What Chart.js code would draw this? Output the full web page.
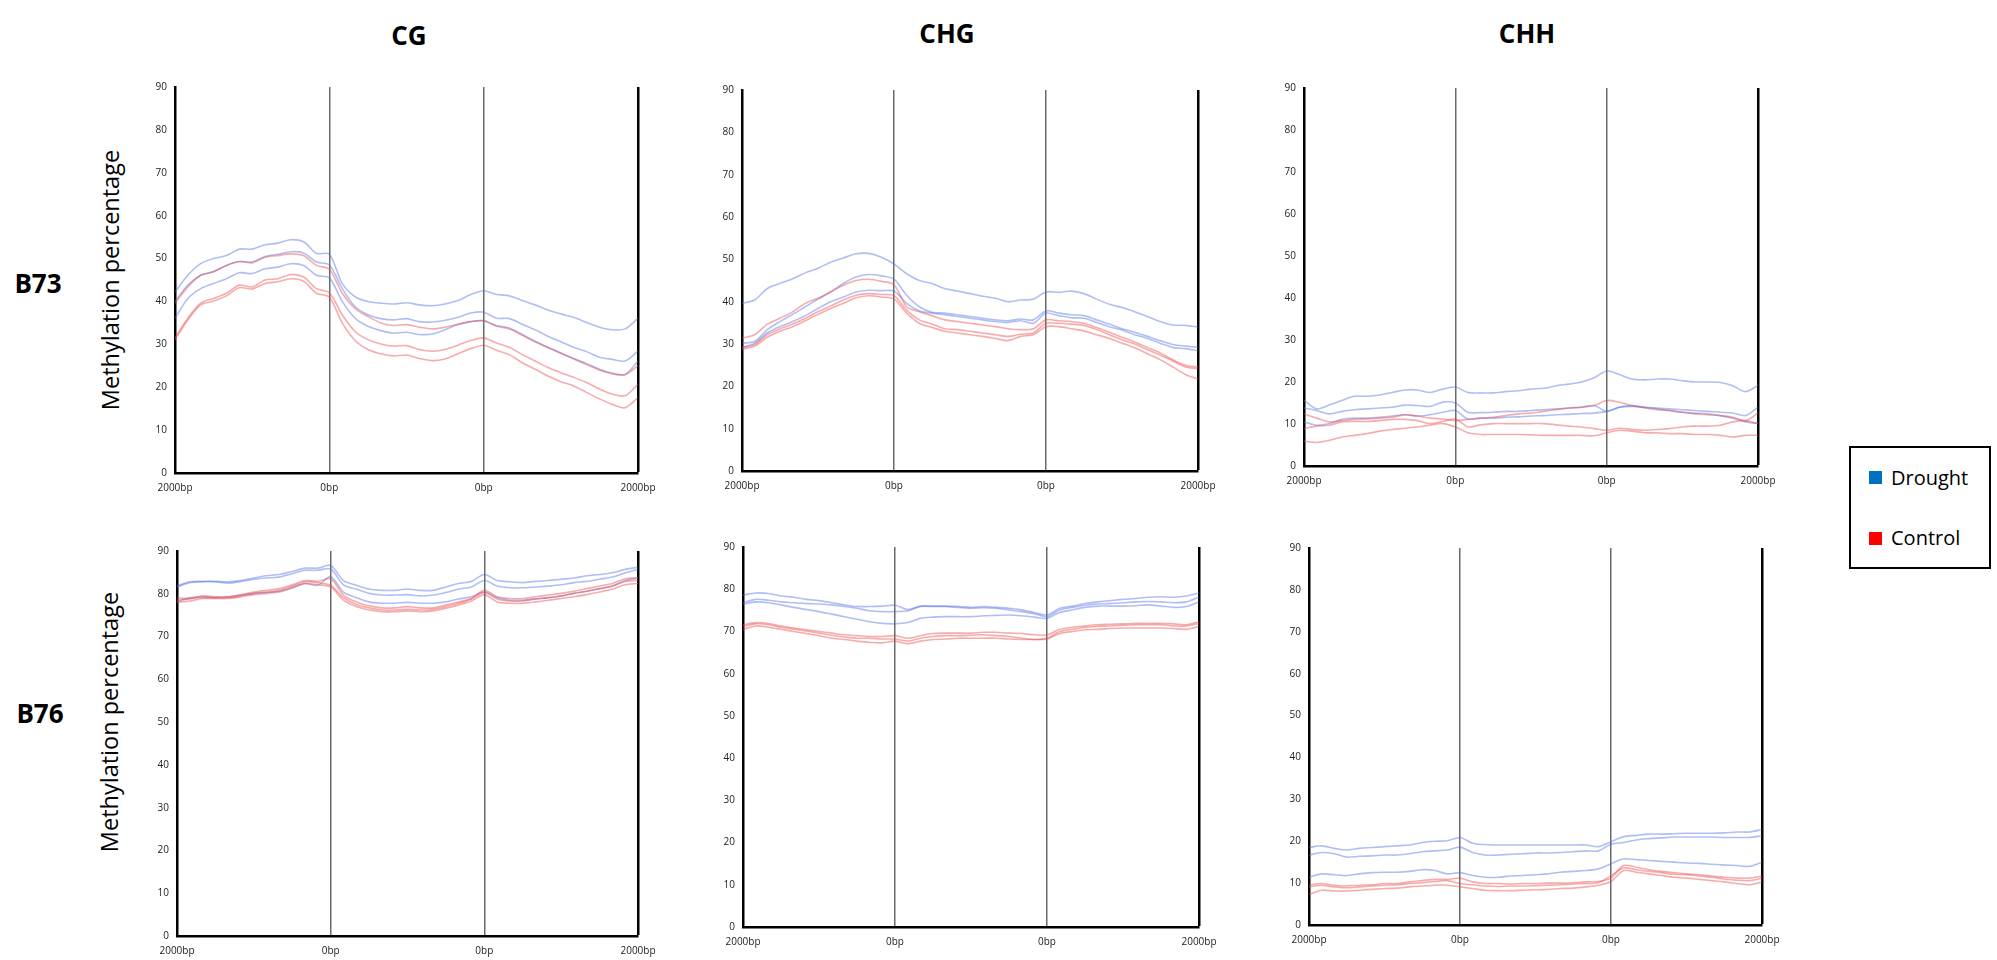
<!DOCTYPE html>
<html>
<head>
<meta charset="utf-8">
<script src="https://cdn.jsdelivr.net/npm/chart.js@4.4.1/dist/chart.umd.min.js"></script>
<style>
  body { margin: 0; background: #fff; }
  #page { position: relative; width: 1997px; height: 960px; overflow: hidden; font-family: "Open Sans", sans-serif; }
  canvas { position: absolute; }
  .lbl { position: absolute; transform: translate(-50%, -50%); line-height: 1; white-space: nowrap; color: #000; }
  .col { font-weight: bold; font-size: 26px; }
  .row { font-weight: bold; font-size: 26px; }
  .ytitle { font-size: 23.5px; transform: translate(-50%, -50%) rotate(-90deg); }
  #legend { position: absolute; left: 1849px; top: 446px; width: 142px; height: 123px; box-sizing: border-box; border: 2px solid #000; }
  #legend .sw { position: absolute; left: 18px; width: 13px; height: 13px; }
  #legend .tx { position: absolute; left: 40px; font-size: 20px; line-height: 1; transform: translateY(-50%); }
</style>
</head>
<body>
<div id="page">
  <div class="lbl col" style="left:409px; top:35px;">CG</div>
  <div class="lbl col" style="left:947px; top:33px;">CHG</div>
  <div class="lbl col" style="left:1527px; top:33px;">CHH</div>
  <div class="lbl row" style="left:38px; top:283px;">B73</div>
  <div class="lbl row" style="left:40px; top:713px;">B76</div>
  <div class="lbl ytitle" style="left:111px; top:280px;">Methylation percentage</div>
  <div class="lbl ytitle" style="left:110px; top:722px;">Methylation percentage</div>

  <canvas id="cgB73"></canvas>
  <canvas id="chgB73"></canvas>
  <canvas id="chhB73"></canvas>
  <canvas id="cgB76"></canvas>
  <canvas id="chgB76"></canvas>
  <canvas id="chhB76"></canvas>

  <div id="legend">
    <div class="sw" style="top:23px; background:#0070C0;"></div>
    <div class="tx" style="top:30px;">Drought</div>
    <div class="sw" style="top:84px; background:#FF0000;"></div>
    <div class="tx" style="top:90px;">Control</div>
  </div>
</div>

<script>
// bin positions: 12 bins upstream, 12 bins gene body, 12 bins downstream
const bins = [0, 1, 2, 3, 4, 5, 6, 7, 8, 9, 10, 11, 12, 13, 14, 15, 16, 17, 18, 19, 20, 21, 22, 23, 24, 25, 26, 27, 28, 29, 30, 31, 32, 33, 34, 35, 36];
const xTicks = [0, 12, 24, 36];
const xTickLabels = ["2000bp", "0bp", "0bp", "2000bp"];
const yTicks = [0, 10, 20, 30, 40, 50, 60, 70, 80, 90];

// B73 - CG
const b73CgD1 = [42.2, 46.1, 48.8, 50.0, 50.7, 52.2, 52.2, 53.2, 53.6, 54.4, 53.9, 51.2, 51.0, 44.2, 41.1, 40.0, 39.6, 39.4, 39.7, 39.2, 39.0, 39.4, 40.2, 41.6, 42.5, 41.6, 41.3, 40.2, 39.2, 38.0, 37.1, 36.3, 35.1, 34.0, 33.4, 33.6, 36.1];
const b73CgD2 = [40.0, 43.8, 46.1, 47.0, 48.4, 49.3, 49.2, 50.5, 51.0, 51.6, 51.3, 49.2, 48.5, 43.0, 38.8, 36.9, 36.0, 35.7, 36.0, 35.3, 35.2, 35.6, 36.3, 37.3, 37.5, 36.1, 36.0, 34.7, 33.4, 31.9, 30.6, 29.3, 28.3, 27.0, 26.5, 26.1, 28.4];
const b73CgD3 = [36.1, 40.7, 43.0, 44.2, 45.3, 46.7, 46.5, 47.6, 48.0, 48.8, 48.4, 46.1, 45.5, 40.0, 36.1, 34.2, 33.2, 32.6, 32.8, 32.3, 32.4, 33.4, 34.6, 35.3, 35.5, 34.4, 33.8, 32.3, 30.7, 29.3, 28.0, 26.7, 25.5, 24.2, 23.3, 23.0, 26.1];
const b73CgC1 = [39.6, 43.4, 46.1, 46.9, 48.4, 49.3, 49.0, 50.3, 50.7, 51.1, 50.7, 48.4, 47.5, 41.9, 38.3, 36.5, 35.0, 34.4, 34.6, 34.0, 33.6, 34.0, 34.7, 35.3, 35.5, 34.2, 33.6, 32.1, 30.6, 29.2, 27.9, 26.6, 25.3, 24.0, 23.1, 22.9, 25.0];
const b73CgC2 = [31.5, 36.1, 39.6, 40.7, 41.9, 43.8, 43.4, 45.0, 45.3, 46.3, 45.7, 43.0, 42.0, 36.9, 33.0, 31.1, 30.1, 29.6, 29.7, 28.8, 28.4, 28.8, 29.8, 30.9, 31.5, 30.3, 29.3, 27.6, 26.1, 24.6, 23.4, 22.3, 21.1, 19.6, 18.4, 18.0, 20.7];
const b73CgC3 = [31.1, 35.7, 39.2, 40.1, 41.3, 43.2, 42.9, 44.2, 44.6, 45.3, 44.7, 41.9, 41.0, 35.0, 30.9, 28.8, 27.8, 27.3, 27.5, 26.7, 26.2, 26.6, 27.8, 29.0, 29.8, 28.6, 27.6, 25.7, 24.2, 22.6, 21.3, 20.3, 18.8, 17.3, 16.0, 15.2, 17.6];

// B73 - CHG
const b73ChgD1 = [39.6, 40.4, 43.1, 44.3, 45.4, 46.8, 47.9, 49.3, 50.3, 51.3, 51.4, 50.5, 48.9, 46.6, 45.0, 44.3, 43.1, 42.5, 41.9, 41.3, 40.8, 40.0, 40.4, 40.6, 42.3, 42.2, 42.5, 41.9, 40.6, 39.4, 38.6, 37.6, 36.5, 35.3, 34.5, 34.4, 34.0];
const b73ChgD2 = [30.2, 30.6, 33.4, 35.3, 37.0, 38.8, 40.6, 42.3, 44.3, 45.8, 46.4, 46.1, 45.3, 41.5, 38.8, 37.5, 37.3, 36.9, 36.5, 36.1, 35.7, 35.5, 35.9, 35.7, 37.8, 37.3, 36.9, 36.7, 35.7, 34.7, 33.6, 32.8, 31.8, 30.8, 29.9, 29.5, 29.2];
const b73ChgD3 = [29.2, 30.2, 32.6, 34.1, 35.3, 36.7, 38.4, 40.0, 41.1, 42.3, 42.7, 42.6, 42.5, 39.6, 37.8, 37.3, 36.9, 36.5, 36.1, 35.7, 35.3, 35.1, 35.5, 34.9, 37.3, 36.7, 36.2, 36.1, 35.1, 34.1, 33.3, 32.2, 31.3, 30.2, 29.2, 28.9, 28.4];
const b73ChgC1 = [31.4, 32.2, 34.7, 36.1, 37.6, 39.6, 40.8, 42.3, 43.9, 45.0, 45.3, 44.8, 44.0, 38.8, 37.6, 36.7, 35.7, 35.3, 34.9, 34.5, 34.1, 33.6, 33.4, 33.6, 35.7, 35.5, 35.3, 34.9, 33.9, 32.8, 31.6, 30.5, 29.2, 27.9, 26.3, 25.0, 24.6];
const b73ChgC2 = [29.1, 29.9, 32.2, 33.6, 34.7, 36.1, 37.6, 39.0, 40.4, 41.5, 41.9, 41.7, 41.4, 38.0, 35.7, 34.7, 33.6, 33.4, 33.0, 32.6, 32.2, 31.8, 32.3, 32.6, 34.9, 34.9, 34.7, 34.4, 33.4, 32.2, 31.0, 30.0, 28.7, 27.4, 26.0, 24.6, 24.2];
const b73ChgC3 = [28.7, 29.5, 31.6, 33.0, 34.1, 35.5, 37.0, 38.4, 39.6, 40.9, 41.4, 41.1, 40.6, 37.3, 34.9, 33.9, 33.0, 32.6, 32.2, 31.8, 31.3, 30.8, 31.8, 32.2, 34.1, 34.1, 33.6, 33.1, 32.2, 31.3, 30.2, 29.1, 27.7, 26.3, 24.6, 22.8, 21.7];

// B73 - CHH
const b73ChhD1 = [15.6, 13.6, 14.5, 15.6, 16.6, 16.6, 16.9, 17.5, 18.1, 18.1, 17.5, 18.3, 18.8, 17.5, 17.4, 17.4, 17.7, 17.9, 18.3, 18.5, 19.1, 19.5, 20.0, 21.0, 22.6, 21.8, 20.7, 20.5, 20.7, 20.7, 20.3, 20.0, 20.0, 19.9, 19.1, 17.7, 19.2];
const b73ChhD2 = [13.8, 13.2, 12.4, 13.0, 13.4, 13.6, 13.8, 14.0, 14.5, 14.4, 14.2, 15.2, 15.0, 12.8, 12.7, 12.8, 13.0, 13.0, 13.2, 13.4, 13.6, 13.8, 14.0, 14.4, 13.0, 14.0, 14.4, 14.0, 13.8, 13.6, 13.4, 13.2, 13.0, 12.8, 12.6, 12.0, 14.0];
const b73ChhD3 = [10.5, 9.7, 10.1, 11.1, 11.4, 11.4, 11.6, 11.9, 12.2, 11.9, 12.2, 12.8, 13.2, 11.2, 11.4, 11.4, 11.6, 11.7, 11.9, 12.0, 12.2, 12.3, 12.5, 12.6, 13.0, 14.0, 14.2, 14.0, 13.6, 13.2, 12.8, 12.6, 12.4, 12.0, 11.4, 10.5, 10.1];
const b73ChhC1 = [12.4, 11.4, 10.5, 10.8, 11.1, 11.2, 11.4, 11.6, 12.2, 11.9, 11.4, 11.2, 10.8, 11.1, 11.4, 11.6, 12.0, 12.4, 12.6, 13.0, 13.4, 13.8, 14.0, 14.4, 15.6, 15.2, 14.4, 13.8, 13.4, 13.2, 12.8, 12.4, 12.2, 12.0, 11.6, 10.8, 12.6];
const b73ChhC2 = [8.9, 9.5, 9.7, 10.5, 10.6, 10.6, 10.8, 11.1, 11.1, 10.8, 10.1, 10.6, 11.2, 9.3, 9.8, 10.1, 10.1, 10.1, 10.1, 10.1, 9.8, 9.5, 9.3, 8.9, 8.5, 9.0, 8.7, 8.5, 8.7, 8.9, 9.3, 9.5, 9.5, 9.7, 10.5, 10.8, 10.1];
const b73ChhC3 = [5.9, 5.6, 6.1, 6.9, 7.3, 7.7, 8.3, 8.7, 9.0, 9.3, 9.7, 10.1, 9.3, 7.9, 7.5, 7.5, 7.5, 7.5, 7.4, 7.3, 7.3, 7.3, 7.3, 7.2, 7.9, 8.5, 8.3, 7.9, 7.9, 7.7, 7.7, 7.5, 7.5, 7.3, 6.9, 7.3, 7.3];

// B76 - CG
const b76CgD1 = [81.8, 82.8, 82.9, 82.9, 82.8, 83.1, 83.7, 84.2, 84.5, 85.2, 86.0, 86.0, 86.6, 83.1, 82.0, 81.1, 80.8, 80.8, 81.1, 80.8, 80.8, 81.6, 82.4, 82.9, 84.5, 83.1, 82.8, 82.6, 82.9, 83.1, 83.4, 83.7, 84.2, 84.5, 84.9, 85.7, 86.2];
const b76CgD2 = [81.6, 82.6, 82.8, 82.8, 82.5, 82.9, 83.4, 83.7, 83.9, 84.7, 85.5, 85.5, 85.8, 82.1, 81.1, 80.1, 79.7, 79.7, 79.8, 79.5, 79.7, 80.3, 81.1, 81.6, 83.1, 81.8, 81.4, 81.4, 81.6, 81.8, 82.1, 82.6, 82.9, 83.4, 83.9, 84.9, 85.7];
const b76CgD3 = [78.1, 79.1, 79.1, 79.1, 79.3, 79.7, 80.1, 80.3, 80.6, 81.4, 82.4, 82.0, 84.0, 80.4, 79.1, 78.1, 77.8, 77.8, 78.0, 77.8, 77.8, 78.1, 78.8, 79.3, 80.4, 79.1, 78.5, 78.5, 78.8, 79.1, 79.5, 80.1, 80.6, 81.2, 81.8, 83.1, 83.7];
const b76CgC1 = [79.1, 78.9, 79.5, 79.3, 79.3, 79.8, 80.4, 80.8, 81.2, 82.1, 83.1, 82.9, 83.5, 79.7, 78.1, 77.2, 76.7, 76.7, 77.0, 76.7, 76.7, 77.4, 78.1, 78.9, 80.8, 79.3, 78.9, 78.9, 79.3, 79.7, 80.1, 80.6, 81.2, 81.8, 82.4, 83.5, 83.7];
const b76CgC2 = [78.5, 78.8, 79.3, 79.1, 79.1, 79.5, 80.1, 80.4, 80.8, 81.8, 82.8, 82.6, 82.0, 79.1, 77.5, 76.7, 76.2, 76.2, 76.4, 76.2, 76.4, 77.0, 77.8, 78.8, 80.3, 78.8, 78.3, 78.3, 78.8, 79.1, 79.5, 80.1, 80.6, 81.2, 81.8, 82.9, 83.1];
const b76CgC3 = [78.0, 78.3, 78.9, 78.9, 78.9, 79.3, 79.8, 80.1, 80.4, 81.4, 82.4, 82.1, 81.6, 78.5, 77.0, 76.2, 75.8, 75.8, 76.0, 75.8, 76.0, 76.6, 77.4, 78.3, 79.8, 78.1, 77.8, 77.8, 78.1, 78.5, 78.9, 79.3, 79.8, 80.4, 81.1, 82.1, 82.4];

// B76 - CHG
const b76ChgD1 = [78.6, 79.1, 79.0, 78.4, 78.1, 77.6, 77.3, 76.8, 76.3, 75.9, 75.9, 76.0, 76.2, 75.2, 76.0, 76.0, 76.0, 75.9, 75.7, 75.9, 75.7, 75.5, 75.1, 74.5, 73.9, 75.5, 76.0, 76.6, 77.0, 77.3, 77.6, 77.8, 78.1, 78.2, 78.1, 78.4, 79.1];
const b76ChgD2 = [76.8, 77.6, 77.4, 77.0, 76.8, 76.6, 76.5, 76.3, 75.9, 75.5, 74.9, 74.7, 74.7, 74.9, 75.9, 75.9, 75.9, 75.7, 75.5, 75.6, 75.5, 75.1, 74.7, 74.2, 73.5, 75.1, 75.7, 76.2, 76.5, 76.6, 76.8, 77.0, 77.1, 77.0, 76.8, 77.0, 78.1];
const b76ChgD3 = [76.5, 77.0, 76.8, 76.3, 75.7, 75.2, 74.7, 74.1, 73.5, 72.9, 72.3, 71.9, 71.8, 72.1, 73.1, 73.4, 73.5, 73.5, 73.5, 73.7, 73.8, 73.9, 73.7, 73.4, 73.1, 74.5, 75.1, 75.7, 76.0, 76.0, 76.0, 76.1, 76.3, 76.0, 75.7, 75.9, 77.0];
const b76ChgC1 = [71.6, 72.1, 71.9, 71.3, 70.8, 70.4, 70.0, 69.6, 69.2, 69.0, 68.8, 68.8, 69.0, 68.4, 69.0, 69.5, 69.6, 69.6, 69.6, 69.8, 69.8, 69.6, 69.5, 69.2, 69.2, 70.5, 71.0, 71.3, 71.6, 71.7, 71.8, 71.9, 71.9, 71.9, 71.8, 71.6, 72.3];
const b76ChgC2 = [71.2, 71.8, 71.6, 71.0, 70.5, 70.1, 69.6, 69.1, 68.7, 68.4, 68.4, 68.2, 68.2, 67.7, 68.4, 68.8, 69.0, 69.0, 69.1, 69.2, 69.0, 68.8, 68.4, 68.1, 68.4, 70.0, 70.5, 71.0, 71.2, 71.3, 71.5, 71.6, 71.6, 71.6, 71.3, 71.3, 71.9];
const b76ChgC3 = [70.5, 71.3, 71.0, 70.5, 70.0, 69.5, 69.0, 68.4, 68.1, 67.7, 67.4, 67.3, 67.7, 67.1, 67.7, 68.1, 68.2, 68.4, 68.4, 68.4, 68.4, 68.2, 68.1, 68.1, 68.2, 69.5, 70.0, 70.4, 70.5, 70.7, 70.8, 70.8, 70.8, 70.8, 70.7, 70.5, 71.2];

// B76 - CHH
const b76ChhD1 = [18.5, 18.9, 18.3, 17.9, 18.3, 18.5, 18.7, 18.9, 19.1, 19.7, 20.0, 20.1, 20.9, 19.5, 19.2, 19.1, 19.1, 19.1, 19.1, 19.1, 19.1, 19.1, 19.1, 18.7, 19.9, 21.1, 21.4, 21.7, 21.7, 21.8, 21.9, 21.9, 21.9, 22.0, 22.2, 22.2, 22.8];
const b76ChhD2 = [16.7, 17.3, 17.0, 16.2, 16.4, 16.5, 16.7, 16.7, 17.0, 17.5, 17.7, 17.9, 18.6, 17.3, 16.7, 16.7, 16.9, 17.0, 17.2, 17.2, 17.3, 17.5, 17.7, 17.7, 19.3, 19.7, 20.3, 20.6, 20.8, 21.0, 21.0, 21.0, 21.0, 20.9, 20.9, 20.9, 21.3];
const b76ChhD3 = [11.4, 12.2, 12.0, 11.8, 12.2, 12.5, 12.6, 12.6, 12.8, 13.2, 13.0, 12.2, 12.5, 11.8, 11.4, 11.4, 11.7, 11.8, 12.0, 12.2, 12.6, 12.8, 13.0, 13.4, 14.6, 15.8, 15.6, 15.4, 15.2, 15.0, 14.8, 14.7, 14.5, 14.3, 14.2, 14.0, 15.0];
const b76ChhC1 = [9.5, 9.9, 9.5, 9.3, 9.5, 9.6, 9.9, 9.9, 10.3, 10.6, 10.9, 10.9, 11.2, 10.3, 9.9, 9.9, 9.8, 9.9, 9.9, 10.0, 10.0, 10.1, 10.3, 10.4, 11.2, 14.2, 13.8, 13.2, 12.8, 12.5, 12.2, 12.0, 11.7, 11.4, 11.2, 11.2, 11.7];
const b76ChhC2 = [9.1, 9.5, 9.1, 8.9, 9.1, 9.3, 9.5, 9.6, 9.9, 10.1, 10.4, 10.6, 9.9, 9.6, 9.3, 9.2, 9.3, 9.3, 9.4, 9.5, 9.6, 9.8, 9.9, 10.1, 11.8, 13.6, 13.2, 12.8, 12.5, 12.1, 12.0, 11.7, 11.4, 11.0, 10.7, 10.6, 11.2];
const b76ChhC3 = [7.3, 8.3, 8.1, 8.1, 8.3, 8.5, 8.7, 8.8, 9.1, 9.3, 9.5, 9.5, 9.1, 8.7, 8.3, 8.2, 8.2, 8.3, 8.4, 8.5, 8.7, 8.8, 9.1, 9.5, 10.4, 13.0, 12.6, 12.2, 11.8, 11.4, 11.2, 10.9, 10.6, 10.3, 9.9, 9.6, 10.3];

const droughtColor = "rgba(80, 110, 230, 0.45)";
const controlColor = "rgba(235, 70, 70, 0.45)";

// plot area of each panel on the page: left, right, top, bottom
const panels = [
  { id: "cgB73",  box: [175, 638, 83, 473],   drought: [b73CgD1, b73CgD2, b73CgD3],   control: [b73CgC1, b73CgC2, b73CgC3] },
  { id: "chgB73", box: [742, 1198, 86, 471],  drought: [b73ChgD1, b73ChgD2, b73ChgD3], control: [b73ChgC1, b73ChgC2, b73ChgC3] },
  { id: "chhB73", box: [1304, 1758, 84, 466], drought: [b73ChhD1, b73ChhD2, b73ChhD3], control: [b73ChhC1, b73ChhC2, b73ChhC3] },
  { id: "cgB76",  box: [177, 638, 547, 936],  drought: [b76CgD1, b76CgD2, b76CgD3],   control: [b76CgC1, b76CgC2, b76CgC3] },
  { id: "chgB76", box: [743, 1199, 543, 927], drought: [b76ChgD1, b76ChgD2, b76ChgD3], control: [b76ChgC1, b76ChgC2, b76ChgC3] },
  { id: "chhB76", box: [1309, 1762, 544, 925], drought: [b76ChhD1, b76ChhD2, b76ChhD3], control: [b76ChhC1, b76ChhC2, b76ChhC3] }
];

const yAxisWidth = 45, xAxisHeight = 30, padTop = 10, padRight = 30;

function toPoints (values) {
  return values.map((v, i) => ({ x: bins[i], y: v }));
}

function lineSet (values, color) {
  return {
    data: toPoints(values),
    borderColor: color,
    borderWidth: 1.6,
    pointRadius: 0,
    tension: 0.3,
    fill: false
  };
}

panels.forEach(p => {
  const [left, right, top, bottom] = p.box;
  const canvas = document.getElementById(p.id);
  canvas.width = (right - left) + yAxisWidth + padRight;
  canvas.height = (bottom - top) + padTop + xAxisHeight;
  canvas.style.left = (left - yAxisWidth) + "px";
  canvas.style.top = (top - padTop) + "px";

  new Chart(canvas.getContext("2d"), {
    type: "line",
    data: {
      datasets: [
        ...p.control.map(v => lineSet(v, controlColor)),
        ...p.drought.map(v => lineSet(v, droughtColor))
      ]
    },
    options: {
      responsive: false,
      animation: false,
      devicePixelRatio: 1,
      layout: { padding: { top: padTop, right: padRight, left: 0, bottom: 0 } },
      plugins: { legend: { display: false }, tooltip: { enabled: false } },
      scales: {
        x: {
          type: "linear",
          min: bins[0],
          max: bins[bins.length - 1],
          afterBuildTicks: scale => { scale.ticks = xTicks.map(v => ({ value: v })); },
          afterFit: scale => { scale.height = xAxisHeight; },
          ticks: {
            callback: v => xTickLabels[xTicks.indexOf(v)],
            maxRotation: 0,
            autoSkip: false,
            padding: 9,
            color: "#222",
            font: { family: "Open Sans", size: 10 }
          },
          grid: {
            drawTicks: false,
            color: ctx => {
              const v = ctx.tick ? ctx.tick.value : null;
              if (v === 36) return "#000";
              if (v === 12 || v === 24) return "#6a6a6a";
              return "rgba(0,0,0,0)";
            },
            lineWidth: ctx => (ctx.tick && ctx.tick.value === 36) ? 2.5 : 1.5
          },
          border: { display: true, color: "#000", width: 2.5 }
        },
        y: {
          min: 0,
          max: 90,
          afterBuildTicks: scale => { scale.ticks = yTicks.map(v => ({ value: v })); },
          afterFit: scale => { scale.width = yAxisWidth; },
          ticks: {
            padding: 8,
            color: "#222",
            font: { family: "Open Sans", size: 10 }
          },
          grid: { display: false, drawTicks: false },
          border: { display: true, color: "#000", width: 2.5 }
        }
      }
    }
  });
});
</script>
</body>
</html>
